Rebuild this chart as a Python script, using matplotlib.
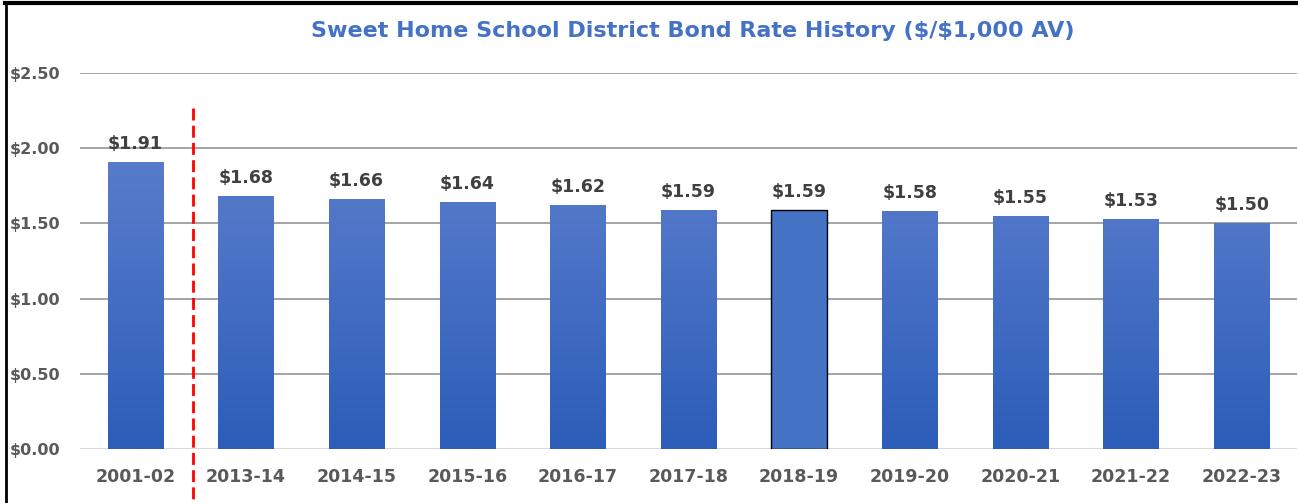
import matplotlib
matplotlib.use("Agg")
import matplotlib.pyplot as plt
import numpy as np
from matplotlib.colors import LinearSegmentedColormap

categories = ["2001-02", "2013-14", "2014-15", "2015-16", "2016-17", "2017-18",
              "2018-19", "2019-20", "2020-21", "2021-22", "2022-23"]
values = [1.91, 1.68, 1.66, 1.64, 1.62, 1.59, 1.59, 1.58, 1.55, 1.53, 1.50]
highlight = "2018-19"
yticks = [0.0, 0.5, 1.0, 1.5, 2.0, 2.5]
title = "Sweet Home School District Bond Rate History ($/$1,000 AV)"

W, H = 1298, 503
fig = plt.figure(figsize=(W / 100, H / 100), dpi=100)
ax = fig.add_axes([80 / W, 1 - 449 / H, 1217 / W, 376 / H])

x = np.arange(len(categories))
cmap = LinearSegmentedColormap.from_list("g", ["#2c5db8", "#4a72c6", "#6284cd"])
grad = np.linspace(0, 1, 256).reshape(-1, 1)

bars = ax.bar(x, values, width=0.5, zorder=3)
for cat, b in zip(categories, bars):
    if cat == highlight:
        b.set_facecolor("#4472c4")
        b.set_edgecolor("black")
        b.set_linewidth(1.0)
    else:
        b.set_facecolor("none")
        b.set_edgecolor("none")
        x0 = b.get_x()
        w = b.get_width()
        im = ax.imshow(grad, cmap=cmap, extent=[x0, x0 + w, 0, 2.5], origin="lower",
                       aspect="auto", zorder=3, interpolation="bilinear")
        im.set_clip_path(b)

for xi, v in zip(x, values):
    ax.text(xi, v + 0.06, f"${v:.2f}", ha="center", va="bottom", fontsize=12.5,
            fontweight="bold", color="#404040", zorder=4, parse_math=False)

ax.set_xlim(-0.5, len(categories) - 0.5)
ax.set_ylim(0, 2.5)
ax.set_yticks(yticks)
ax.set_yticklabels([f"${t:.2f}" for t in yticks], fontsize=11.5, fontweight="bold",
                   color="#595959")
ax.set_xticks(x)
ax.set_xticklabels(categories, fontsize=12.5, fontweight="bold", color="#595959")
ax.tick_params(length=0)
ax.tick_params(axis="y", pad=14)
ax.tick_params(axis="x", pad=14)
for s in ax.spines.values():
    s.set_visible(False)
for t in yticks[1:]:
    ax.axhline(t, color="#a6a6a6", lw=1.44, zorder=1)
ax.axhline(0, color="#d9d9d9", lw=1.44, zorder=2)

ax.plot([0.52, 0.52], [2.27, -0.38], color="#ff0000", lw=2, ls=(0, (4.3, 1.9)),
        clip_on=False, zorder=5)

fig.text(693 / W, 1 - 31 / H, title, ha="center", va="center", fontsize=16,
         fontweight="bold", color="#4472c4", parse_math=False)

# border lines (top and left)
fig.add_artist(plt.Line2D([5 / W, 1], [1 - 3 / H, 1 - 3 / H], transform=fig.transFigure,
                          color="black", lw=3))
fig.add_artist(plt.Line2D([5.5 / W, 5.5 / W], [0, 1 - 3 / H], transform=fig.transFigure,
                          color="black", lw=2))

fig.savefig("out.png", dpi=100)
